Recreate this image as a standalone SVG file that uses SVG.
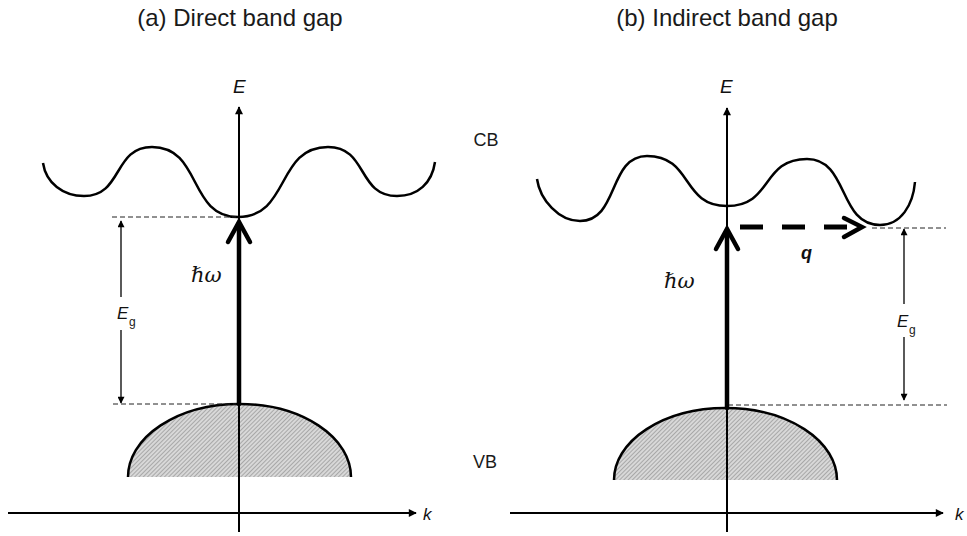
<svg xmlns="http://www.w3.org/2000/svg" width="967" height="536" viewBox="0 0 967 536">
<style>
  .t{font-family:"Liberation Sans",Arial,sans-serif;fill:#1a1a1a}
  .ti{font-family:"Liberation Sans",Arial,sans-serif;font-style:italic;fill:#111}
  .hw{font-family:"DejaVu Serif","Liberation Serif",serif;font-style:italic;fill:#111}
  .axis{stroke:#000;stroke-width:2;fill:none}
  .band{stroke:#000;stroke-width:2.5;fill:none}
  .dash{stroke:#222;stroke-width:1;stroke-dasharray:5 3;fill:none}
  .eg{stroke:#000;stroke-width:1.3;fill:none}
  .photon{stroke:#000;stroke-width:4.5;fill:none;stroke-linecap:round;stroke-linejoin:miter}
</style>
<defs>
  <pattern id="hatch" width="3" height="3" patternUnits="userSpaceOnUse" patternTransform="rotate(45)">
    <rect width="3" height="3" fill="#d8d8d8"/>
    <line x1="0" y1="0" x2="0" y2="3" stroke="#808080" stroke-width="1.1"/>
  </pattern>
  <marker id="ah" viewBox="0 0 10 10" refX="9" refY="5" markerWidth="10" markerHeight="8" markerUnits="userSpaceOnUse" orient="auto-start-reverse">
    <path d="M0,0 L10,5 L0,10 Z" fill="#000"/>
  </marker>
  <marker id="ahs" viewBox="0 0 10 10" refX="9" refY="5" markerWidth="8" markerHeight="7" markerUnits="userSpaceOnUse" orient="auto-start-reverse">
    <path d="M0,0 L10,5 L0,10 Z" fill="#000"/>
  </marker>
</defs>

<g id="titles">
  <text class="t" x="240" y="26" font-size="24" text-anchor="middle">(a) Direct band gap</text>
  <text class="t" x="727" y="26" font-size="24" text-anchor="middle">(b) Indirect band gap</text>
  <text class="t" x="486" y="146" font-size="18" text-anchor="middle">CB</text>
  <text class="t" x="485" y="468" font-size="18" text-anchor="middle">VB</text>
</g>

<g id="vb-a">
  <path d="M128,477 A111.5,73 0 0 1 351,477 Z" fill="url(#hatch)"/>
  <path d="M128,477 A111.5,73 0 0 1 351,477" class="band"/>
</g>
<g id="vb-b">
  <path d="M614,480 A111.5,72 0 0 1 837,480 Z" fill="url(#hatch)"/>
  <path d="M614,480 A111.5,72 0 0 1 837,480" class="band"/>
</g>

<g id="cb-a">
  <path class="band" d="M43,163 C46,183 63,196 84,196 C123,196 113,147 152,147 C202,147 188,217 238,217 C290,217 276,147 328,147 C368,147 357,196 397,196 C418,196 432,183 435,162"/>
</g>
<g id="cb-b">
  <path class="band" d="M537,179 C540,200 559,221 580,221 C619,221 608,156 647,156 C693,156 681,206 727,206 C773,206 761,159 807,159 C849,159 838,225 880,225 C901,225 913,205 915,182"/>
</g>

<g id="axes">
  <line class="axis" x1="8" y1="513" x2="416" y2="513" marker-end="url(#ah)"/>
  <line class="axis" x1="239" y1="532" x2="239" y2="107" marker-end="url(#ah)"/>
  <line class="axis" x1="510" y1="513" x2="943" y2="513" marker-end="url(#ah)"/>
  <line class="axis" x1="727" y1="532" x2="727" y2="108" marker-end="url(#ah)"/>
  <text class="ti" x="233" y="93" font-size="19">E</text>
  <text class="ti" x="720" y="93" font-size="19">E</text>
  <text class="ti" x="423" y="520" font-size="17">k</text>
  <text class="ti" x="955" y="520" font-size="17">k</text>
</g>

<g id="levels">
  <line class="dash" x1="112" y1="217" x2="236" y2="217"/>
  <line class="dash" x1="113" y1="404" x2="236" y2="404"/>
  <line class="dash" x1="872" y1="228" x2="946" y2="228"/>
  <line class="dash" x1="728" y1="405" x2="947" y2="405"/>
</g>

<g id="eg-a">
  <line class="eg" x1="121" y1="297" x2="121" y2="221" marker-end="url(#ahs)"/>
  <line class="eg" x1="121" y1="330" x2="121" y2="403" marker-end="url(#ahs)"/>
  <text class="ti" x="117" y="319" font-size="17">E</text>
  <text class="t" x="129" y="326" font-size="12">g</text>
</g>
<g id="eg-b">
  <line class="eg" x1="904" y1="304" x2="904" y2="229" marker-end="url(#ahs)"/>
  <line class="eg" x1="904" y1="337" x2="904" y2="400" marker-end="url(#ahs)"/>
  <text class="ti" x="897" y="327" font-size="17">E</text>
  <text class="t" x="909" y="334" font-size="12">g</text>
</g>

<g id="photon-a">
  <line class="photon" x1="239" y1="404" x2="239" y2="223"/>
  <polyline class="photon" points="228,242 239,222 250,242"/>
  <text class="hw" x="191" y="282" font-size="21">ℏω</text>
</g>
<g id="photon-b">
  <line class="photon" x1="727" y1="408" x2="727" y2="230"/>
  <polyline class="photon" points="716,249 727,229 738,249"/>
  <text class="hw" x="664" y="288" font-size="21">ℏω</text>
</g>

<g id="phonon-q">
  <line x1="740" y1="227" x2="860" y2="227" stroke="#000" stroke-width="5" stroke-dasharray="23 19"/>
  <polyline class="photon" points="844,218 862,227 844,237"/>
  <text x="801" y="259" font-size="18" font-weight="bold" font-style="italic" font-family="Liberation Sans,Arial,sans-serif" fill="#111">q</text>
</g>
</svg>
